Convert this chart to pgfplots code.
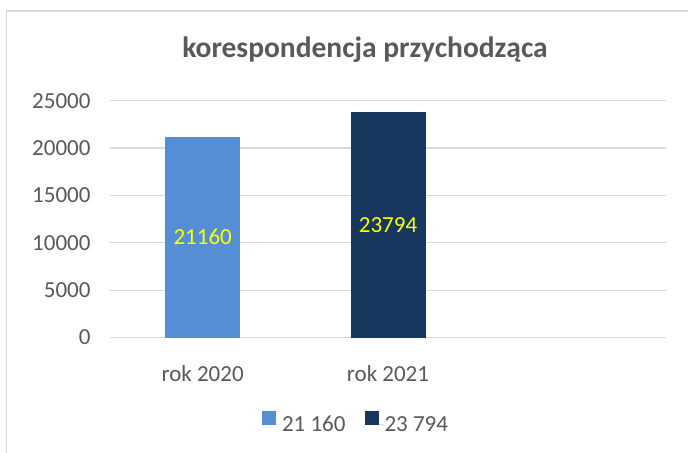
\documentclass[border=0pt]{standalone}
\usepackage{fontspec}
\setmainfont{Carlito}
\usepackage{pgfplots}
\pgfplotsset{compat=1.18}
\definecolor{barA}{RGB}{85,142,213}
\definecolor{barB}{RGB}{23,55,94}
\definecolor{txt}{RGB}{89,89,89}
\definecolor{grd}{RGB}{217,217,217}
\definecolor{lbl}{RGB}{255,255,0}
\begin{document}
\begin{tikzpicture}
\useasboundingbox (0,0) rectangle (688bp,453bp);
\draw[grd, line width=1.2bp] (6.5bp,0) -- (6.5bp,442bp) -- (688bp,442bp);
\node[anchor=base, text=txt, font=\fontsize{29.5bp}{35bp}\selectfont\bfseries] at (365bp,395bp) {korespondencja przychodząca};
\begin{axis}[
  at={(110bp,115.5bp)}, anchor=south west,
  scale only axis, width=556bp, height=236.8bp,
  ybar, bar width=75bp,
  xmin=-0.5, xmax=2.5, ymin=0, ymax=25000,
  xtick={0,1}, xticklabels={rok 2020, rok 2021},
  ytick={0,5000,10000,15000,20000,25000},
  scaled y ticks=false,
  ymajorgrids, grid style={grd, line width=1.2bp},
  axis line style={draw=none},
  tick style={draw=none},
  /pgf/number format/assume math mode=true,
  /pgf/number format/set thousands separator={},
  tick label style={font=\fontsize{23bp}{28bp}\selectfont, text=txt},
  yticklabel style={anchor=east, xshift=-16bp},
  xticklabel style={anchor=base, yshift=-39.5bp},
  legend columns=2,
  legend style={at={(0.2734,-0.357)}, anchor=west, draw=none, inner sep=0pt, outer sep=0pt,
    nodes={inner sep=0pt, font=\fontsize{23bp}{28bp}\selectfont, text=txt},
    /tikz/every even column/.append style={column sep=19bp}},
  legend image code/.code={\fill[#1] (0,0) rectangle (14bp,14bp); \path (0,0) -- (20bp,0);},
]
\addplot[fill=barA, draw=none, bar shift=0pt] coordinates {(0,21160)};
\addlegendentry{21 160}
\addplot[fill=barB, draw=none, bar shift=0pt] coordinates {(1,23794)};
\addlegendentry{23 794}
\addplot[draw=none, fill=none, bar shift=0pt, forget plot, point meta=explicit symbolic,
  nodes near coords, nodes near coords style={anchor=center, text=lbl, font=\fontsize{23bp}{28bp}\selectfont}]
  coordinates {(0,10580)[21160] (1,11897)[23794]};
\end{axis}
\end{tikzpicture}
\end{document}
